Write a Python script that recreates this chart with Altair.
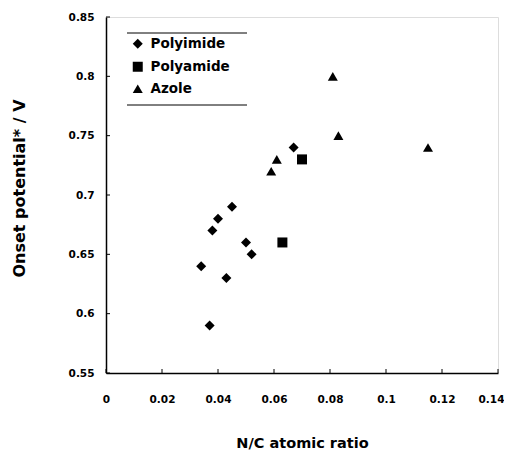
import altair as alt
import pandas as pd

polyimide_x = [0.045, 0.040, 0.038, 0.050, 0.052, 0.034, 0.043, 0.037, 0.067]
polyimide_y = [0.69, 0.68, 0.67, 0.66, 0.65, 0.64, 0.63, 0.59, 0.74]
polyamide_x = [0.063, 0.070]
polyamide_y = [0.66, 0.73]
azole_x = [0.081, 0.083, 0.115, 0.061, 0.059]
azole_y = [0.80, 0.75, 0.74, 0.73, 0.72]

series = ["Polyimide", "Polyamide", "Azole"]
shapes = ["diamond", "square", "triangle-up"]
x_ticks = [0, 0.02, 0.04, 0.06, 0.08, 0.10, 0.12, 0.14]
y_ticks = [0.55, 0.60, 0.65, 0.70, 0.75, 0.80, 0.85]

rows = []
for name, xs_, ys_ in [("Polyimide", polyimide_x, polyimide_y),
                       ("Polyamide", polyamide_x, polyamide_y),
                       ("Azole", azole_x, azole_y)]:
    for a, b in zip(xs_, ys_):
        rows.append({"x": a, "y": b, "type": name})
df = pd.DataFrame(rows)

W, H = 392, 356
FONT = "DejaVu Sans"

xs = alt.Scale(domain=[0, 0.14], nice=False)
ys = alt.Scale(domain=[0.55, 0.85], nice=False)

xaxis = alt.Axis(values=x_ticks, format="~g", ticks=False, grid=False,
                 labelFont=FONT, labelFontWeight="bold", labelFontSize=10.5,
                 labelColor="black", labelPadding=21, domainColor="black",
                 labelOffset={"condition": {"test": "datum.value >= 0.139", "value": -7}, "value": 0},
                 domainWidth=1.5, title="N/C atomic ratio", titleFont=FONT,
                 titleFontWeight="bold", titleFontSize=14.5, titleColor="black",
                 titleBaseline="alphabetic", titleY=74, labelFlush=False)
yaxis = alt.Axis(values=y_ticks, format="~g", ticks=False, grid=False,
                 labelFont=FONT, labelFontWeight="bold", labelFontSize=10.5,
                 labelColor="black", labelPadding=12, domainColor="black",
                 domainWidth=1.5, title="Onset potential* / V", titleFont=FONT,
                 titleFontWeight="bold", titleFontSize=16, titleColor="black",
                 titleBaseline="middle", titleX=-87, titleY=171, labelFlush=False)

points = alt.Chart(df).mark_point(filled=True, opacity=1, size=100, color="black").encode(
    x=alt.X("x:Q", scale=xs, axis=xaxis),
    y=alt.Y("y:Q", scale=ys, axis=yaxis),
    shape=alt.Shape("type:N", scale=alt.Scale(domain=series, range=shapes),
                    legend=alt.Legend(title=None, orient="none", legendX=25, legendY=20,
                                      labelFont=FONT, labelFontWeight="bold",
                                      labelFontSize=13.5, labelColor="black",
                                      symbolFillColor="black", symbolStrokeColor="black",
                                      symbolSize=100, rowPadding=6, labelOffset=6)),
)

xt = pd.DataFrame({"x": x_ticks})
yt = pd.DataFrame({"y": y_ticks})
xtick = alt.Chart(xt).mark_rule(color="black", strokeWidth=1).encode(
    x=alt.X("x:Q", scale=xs), y=alt.value(H), y2=alt.value(H - 4))
ytick = alt.Chart(yt).mark_rule(color="black", strokeWidth=1).encode(
    y=alt.Y("y:Q", scale=ys), x=alt.value(0), x2=alt.value(4))

one = pd.DataFrame({"k": [0]})
legend_top = alt.Chart(one).mark_rule(color="black", strokeWidth=1).encode(
    x=alt.value(21), x2=alt.value(141), y=alt.value(16))
legend_bottom = alt.Chart(one).mark_rule(color="black", strokeWidth=1).encode(
    x=alt.value(21), x2=alt.value(141), y=alt.value(88))

chart = alt.layer(points, xtick, ytick, legend_top, legend_bottom).properties(
    width=W, height=H,
    autosize=alt.AutoSizeParams(type="none"),
    padding={"left": 98, "top": 9, "right": 6, "bottom": 78},
).configure_view(stroke="#555555", strokeWidth=1).configure(background="white")

chart.save("out.html", embed_options={"renderer": "svg", "actions": False})
